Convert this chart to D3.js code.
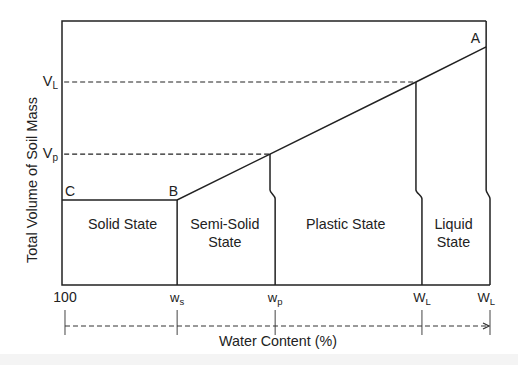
<!DOCTYPE html>
<html>
<head>
<meta charset="utf-8">
<script src="https://cdn.jsdelivr.net/npm/d3@7"></script>
<style>
    body { margin: 0; background: #fff; }
    text { font-family: "Liberation Sans", Arial, sans-serif; fill: #222; }
</style>
</head>
<body>
<div id="chart"></div>
<script>
// Schematic values (water content and volume in arbitrary units 0..10)
const curveWater = [0, 2.69, 4.86, 8.27, 9.91];     // C, B, Vp point, VL point, A
const curveVolume = [3.22, 3.22, 4.96, 7.69, 9.02];
const curveNames = ["C", "B", "", "", "A"];

// limit lines: water content at the top and at the bottom of each line
const limitUpper = [2.69, 4.86, 8.27, 9.91];
const limitLower = [2.69, 4.98, 8.41, 10];
const limitTop = [3.22, 4.96, 7.69, 10];
const kinkVolume = [3.6, 3.27];

const axisWater = [0.07, 2.69, 4.98, 8.41, 10];
const axisLabels = [["100", ""], ["w", "s"], ["w", "p"], ["W", "L"], ["W", "L"]];

const volumeLevels = [7.69, 4.96];
const volumeLabels = [["V", "L"], ["V", "p"]];

const stateNames = [["Solid State"], ["Semi-Solid", "State"], ["Plastic State"], ["Liquid", "State"]];

const WIDTH = 518;
const HEIGHT = 365;
const MARGINS = { top: 21, right: 28, bottom: 80, left: 62 };
const INK = "#222";

const x = d3.scaleLinear().domain([0, 10]).range([MARGINS.left, WIDTH - MARGINS.right]);
const y = d3.scaleLinear().domain([0, 10]).range([HEIGHT - MARGINS.bottom, MARGINS.top]);

const svg = d3.select("#chart").append("svg")
    .attr("width", WIDTH)
    .attr("height", HEIGHT);

// grey strip at the bottom
svg.append("rect")
    .attr("x", 0).attr("y", 354)
    .attr("width", WIDTH).attr("height", HEIGHT - 354)
    .style("fill", "#f4f4f4");

// frame: left, top and bottom
svg.append("path")
    .attr("d", `M${x(limitUpper[3])},${y(10)}H${x(0)}V${y(0)}H${x(10)}`)
    .style("fill", "none").style("stroke", INK).style("stroke-width", 1.5);

// dashed volume levels
svg.append("g").selectAll("line")
    .data(volumeLevels)
    .join("line")
    .attr("x1", x(0.05))
    .attr("x2", (d, i) => x(limitUpper[2 - i]))
    .attr("y1", d => y(d))
    .attr("y2", d => y(d))
    .style("stroke", INK).style("stroke-width", 1.2)
    .style("stroke-dasharray", "5,3");

// C-B-A curve
const line = d3.line().x(d => x(d[0])).y(d => y(d[1]));
svg.append("path")
    .datum(curveWater.map((w, i) => [w, curveVolume[i]]))
    .attr("d", line)
    .style("fill", "none").style("stroke", INK).style("stroke-width", 1.5);

// limit lines with their small kink
const kinkLine = d3.line().x(d => x(d[0])).y(d => y(d[1])).curve(d3.curveMonotoneY);
svg.append("g").selectAll("path")
    .data(limitUpper)
    .join("path")
    .attr("d", (d, i) => {
        const pts = limitTop[i] > kinkVolume[0]
            ? [[d, limitTop[i]], [d, kinkVolume[0]], [limitLower[i], kinkVolume[1]], [limitLower[i], 0]]
            : [[d, limitTop[i]], [limitLower[i], 0]];
        return kinkLine(pts);
    })
    .style("fill", "none").style("stroke", INK).style("stroke-width", 1.5);

// point labels
svg.append("g").selectAll("text")
    .data(curveNames)
    .join("text")
    .text(d => d)
    .attr("x", (d, i) => i === 0 ? x(curveWater[i]) + 3 : x(curveWater[i]) + (i === 1 ? 1 : -6))
    .attr("y", (d, i) => y(curveVolume[i]) - 4)
    .attr("text-anchor", (d, i) => i === 0 ? "start" : "end")
    .style("font-size", "14px");

// volume labels
const vLab = svg.append("g").selectAll("text")
    .data(volumeLabels)
    .join("text")
    .attr("x", x(0) - 4)
    .attr("y", (d, i) => y(volumeLevels[i]) + 4)
    .attr("text-anchor", "end")
    .style("font-size", "14.5px");
vLab.append("tspan").text(d => d[0]);
vLab.append("tspan").text(d => d[1]).attr("dy", 3).style("font-size", "10px");

// state labels
svg.append("g").selectAll("text")
    .data(stateNames)
    .join("text")
    .attr("x", (d, i) => {
        const a = i === 0 ? 0 : (limitUpper[i - 1] + limitLower[i - 1]) / 2;
        const b = (limitUpper[i] + limitLower[i]) / 2;
        return x((a + b) / 2) + (i === 0 ? 3 : 0);
    })
    .attr("y", 229)
    .attr("text-anchor", "middle")
    .style("font-size", "14.3px")
    .selectAll("tspan")
    .data(d => d)
    .join("tspan")
    .attr("x", function() { return this.parentNode.getAttribute("x"); })
    .attr("dy", (d, i) => i === 0 ? 0 : 18)
    .text(d => d);

// water content labels under the frame
const wLab = svg.append("g").selectAll("text")
    .data(axisLabels)
    .join("text")
    .attr("x", (d, i) => i === axisLabels.length - 1 ? x(axisWater[i]) + 5 : x(axisWater[i]))
    .attr("y", 302)
    .attr("text-anchor", (d, i) => i === axisLabels.length - 1 ? "end" : "middle")
    .style("font-size", "14px");
wLab.append("tspan").text(d => d[0]).style("font-size", (d, i) => i === 0 ? "14px" : "13px");
wLab.append("tspan").text(d => d[1]).attr("dy", 3).style("font-size", "9.5px");

// water content axis: ticks and dashed arrow
const AXIS_Y = 326;
svg.append("g").selectAll("line")
    .data(axisWater)
    .join("line")
    .attr("x1", d => x(d)).attr("x2", d => x(d))
    .attr("y1", 310).attr("y2", 335)
    .style("stroke", "#444").style("stroke-width", 1);

svg.append("defs").append("marker")
    .attr("id", "arrow")
    .attr("viewBox", "0 0 8 8")
    .attr("refX", 7).attr("refY", 4)
    .attr("markerWidth", 8).attr("markerHeight", 8)
    .attr("markerUnits", "userSpaceOnUse")
    .attr("orient", "auto")
    .append("path")
    .attr("d", "M1,1L7,4L1,7")
    .style("fill", "none").style("stroke", "#333").style("stroke-width", 1.3);

svg.append("line")
    .attr("x1", x(axisWater[0])).attr("x2", x(10) - 1)
    .attr("y1", AXIS_Y).attr("y2", AXIS_Y)
    .style("stroke", "#333").style("stroke-width", 1)
    .style("stroke-dasharray", "5,3")
    .attr("marker-end", "url(#arrow)");

// axis titles
svg.append("text")
    .text("Water Content (%)")
    .attr("x", 278)
    .attr("y", 346)
    .attr("text-anchor", "middle")
    .style("font-size", "14.3px");

svg.append("text")
    .text("Total Volume of Soil Mass")
    .attr("transform", "rotate(-90)")
    .attr("x", -180)
    .attr("y", 37)
    .attr("text-anchor", "middle")
    .style("font-size", "14.5px");
</script>
</body>
</html>
